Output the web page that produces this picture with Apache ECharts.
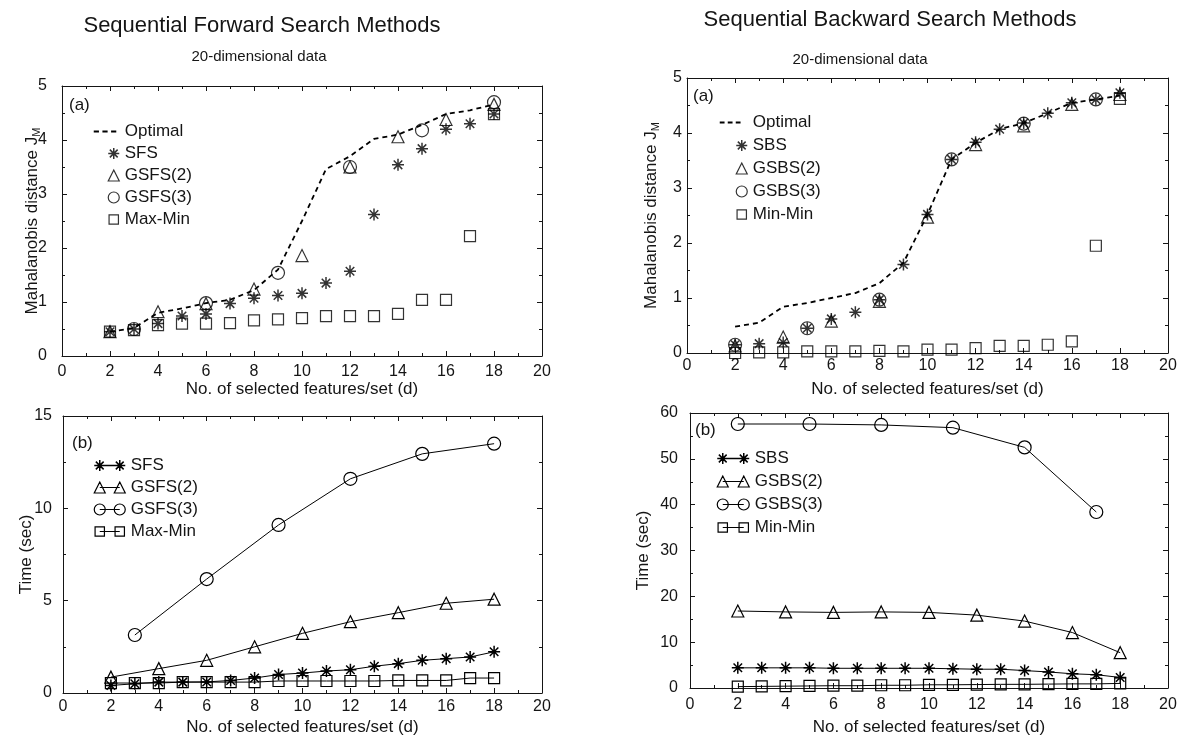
<!DOCTYPE html>
<html><head><meta charset="utf-8">
<script src="https://cdn.jsdelivr.net/npm/echarts@6/dist/echarts.min.js"></script>
<style>html,body{margin:0;padding:0;background:#fff}#c{width:1183px;height:741px}</style>
</head><body><div id="c"></div>
<script>
// ---------- data ----------
const dAll  = [2,3,4,5,6,7,8,9,10,11,12,13,14,15,16,17,18];
const dEven = [2,4,6,8,10,12,14,16,18];
const dFwd3 = [3,6,9,12,15,18];
const dBwd3 = [2,5,8,11,14,17];
const xTickVals = [0,2,4,6,8,10,12,14,16,18,20];

// (a) forward: Mahalanobis distance
const fwdOptimal = [0.45,0.52,0.80,0.88,0.98,1.04,1.22,1.60,2.50,3.46,3.70,4.02,4.10,4.28,4.48,4.55,4.66];
const fwdSFS     = [0.45,0.50,0.60,0.74,0.78,0.97,1.07,1.12,1.16,1.35,1.57,2.62,3.54,3.84,4.20,4.30,4.48];
const fwdGSFS2   = [0.45,0.82,0.97,1.24,1.86,3.50,4.06,4.38,4.66];
const fwdGSFS3   = [0.50,0.98,1.54,3.50,4.18,4.70];
const fwdMaxMin  = [0.45,0.48,0.57,0.60,0.60,0.61,0.66,0.68,0.70,0.74,0.74,0.74,0.78,1.04,1.04,2.22,4.48];
// (b) forward: time (sec)
const fwdTimeSFS    = [0.41,0.50,0.59,0.59,0.60,0.68,0.81,1.00,1.08,1.19,1.26,1.45,1.59,1.77,1.86,1.95,2.23];
const fwdTimeGSFS2  = [0.86,1.32,1.77,2.50,3.23,3.86,4.35,4.86,5.08];
const fwdTimeGSFS3  = [3.14,6.17,9.10,11.60,12.95,13.50];
const fwdTimeMaxMin = [0.54,0.54,0.54,0.59,0.59,0.59,0.59,0.65,0.65,0.65,0.65,0.65,0.68,0.68,0.68,0.81,0.81];
// (a) backward: Mahalanobis distance
const bwdOptimal = [0.48,0.55,0.84,0.91,1.00,1.09,1.27,1.64,2.52,3.52,3.82,4.07,4.18,4.36,4.55,4.61,4.68];
const bwdSBS     = [0.15,0.17,0.19,0.45,0.62,0.74,0.97,1.61,2.52,3.52,3.83,4.07,4.18,4.36,4.55,4.61,4.73];
const bwdGSBS2   = [0.13,0.29,0.58,0.94,2.47,3.79,4.13,4.52,4.70];
const bwdGSBS3   = [0.15,0.45,0.97,3.52,4.17,4.61];
const bwdMinMin  = [0.00,0.01,0.01,0.03,0.03,0.03,0.04,0.03,0.06,0.06,0.09,0.13,0.13,0.15,0.21,1.95,4.62];
// (b) backward: time (sec)
const bwdTimeSBS    = [4.4,4.4,4.4,4.4,4.3,4.3,4.3,4.3,4.3,4.2,4.1,4.1,3.8,3.5,3.1,2.9,2.3];
const bwdTimeGSBS2  = [16.8,16.6,16.5,16.6,16.5,15.9,14.6,12.1,7.7];
const bwdTimeGSBS3  = [57.6,57.6,57.4,56.8,52.5,38.4];
const bwdTimeMinMin = [0.3,0.35,0.4,0.45,0.5,0.5,0.6,0.6,0.7,0.7,0.75,0.8,0.8,0.85,0.9,0.9,1.0];

// ---------- helpers ----------
const FONT = 'Liberation Sans, Arial, Helvetica, sans-serif';
const INK = '#151515';
const zip = (xs, ys) => xs.map((x, i) => [x, ys[i]]);

function shapeAt(kind, cx, cy, r) {
  const f = v => +v.toFixed(2);
  if (kind === 'ast') {
    const q = r * 0.71;
    return `M${f(cx)},${f(cy-r)}L${f(cx)},${f(cy+r)}M${f(cx-r)},${f(cy)}L${f(cx+r)},${f(cy)}` +
           `M${f(cx-q)},${f(cy-q)}L${f(cx+q)},${f(cy+q)}M${f(cx-q)},${f(cy+q)}L${f(cx+q)},${f(cy-q)}`;
  }
  if (kind === 'tri') return `M${f(cx)},${f(cy-r)}L${f(cx+r)},${f(cy+r)}L${f(cx-r)},${f(cy+r)}Z`;
  if (kind === 'cir') return `M${f(cx+r)},${f(cy)}A${f(r)},${f(r)},0,1,1,${f(cx-r)},${f(cy)}A${f(r)},${f(r)},0,1,1,${f(cx+r)},${f(cy)}Z`;
  const s = r * 0.85;
  return `M${f(cx-s)},${f(cy-s)}L${f(cx+s)},${f(cy-s)}L${f(cx+s)},${f(cy+s)}L${f(cx-s)},${f(cy+s)}Z`;
}
const AST = 'path://' + shapeAt('ast', 6, 6, 6);
const SYM = { ast: AST, tri: 'triangle', cir: 'circle', sq: 'rect' };
const SYMSIZE = { ast: 12, tri: 12, cir: 13, sq: 11 };

function singleIcon(kind, W, H, cx) { return 'path://' + `M0,0M${W},${H}` + shapeAt(kind, cx, H/2, 5.5); }
function dashIcon(W, H, len) {
  let p = `M0,0M${W},${H}`; const seg = len / 3;
  for (let i = 0; i < 3; i++) { const x = i * seg; p += `M${(x).toFixed(2)},${H/2-1}h${(seg*0.6).toFixed(2)}v2h-${(seg*0.6).toFixed(2)}z`; }
  return 'path://' + p;
}
function lineIcon(kind, W, H, c1, c2) {
  return 'path://' + `M0,0M${W},${H}` + shapeAt(kind, c1, H/2, 5.5) + `M${c1},${H/2}L${c2},${H/2}` + shapeAt(kind, c2, H/2, 5.5);
}
const hollow = { color: 'transparent', borderColor: '#000', borderWidth: 1.2 };
const hollowAst = { color: 'transparent', borderColor: '#000', borderWidth: 1.5 };
const solid = { color: '#000', borderWidth: 0 };
const styleFor = k => k === 'ast' ? hollowAst : hollow;

// ---------- axes ----------
function xAxis(grid, pos, opts) {
  opts = opts || {};
  return {
    type: 'value', gridIndex: grid, position: pos, min: 0, max: 20, interval: 2,
    axisLine: { show: true, onZero: false, lineStyle: { color: INK, width: 1 } },
    axisTick: { show: true, inside: true, length: 5, lineStyle: { color: INK } },
    minorTick: { show: true, splitNumber: 2, length: 3, lineStyle: { color: INK } },
    splitLine: { show: false }, minorSplitLine: { show: false },
    axisLabel: { show: pos === 'bottom', color: INK, fontSize: 16, fontFamily: FONT, margin: opts.margin || 6,
                 formatter: v => xTickVals.includes(v) ? String(v) : '' },
    name: pos === 'bottom' ? 'No. of selected features/set (d)' : '',
    nameLocation: 'middle', nameGap: opts.gap || 25, nameMoveOverlap: false,
    nameTextStyle: { color: INK, fontSize: 17, fontFamily: FONT }
  };
}
function yAxis(grid, pos, min, max, interval, opts) {
  opts = opts || {};
  return {
    type: 'value', gridIndex: grid, position: pos, min: min, max: max, interval: interval,
    axisLine: { show: true, onZero: false, lineStyle: { color: INK, width: 1 } },
    axisTick: { show: true, inside: true, length: 5, lineStyle: { color: INK } },
    minorTick: { show: true, splitNumber: 2, length: 3, lineStyle: { color: INK } },
    splitLine: { show: false }, minorSplitLine: { show: false },
    axisLabel: { show: pos === 'left', color: INK, fontSize: 16, fontFamily: FONT, margin: opts.margin || 8 },
    name: pos === 'left' ? opts.name : '',
    nameLocation: 'middle', nameGap: opts.gap || 25, nameMoveOverlap: false,
    nameTextStyle: { color: INK, fontSize: 17, fontFamily: FONT,
      rich: { sub: { fontSize: 11, fontFamily: FONT, color: INK, padding: [8, 0, 0, 0] } } }
  };
}

// ---------- series ----------
function scatter(name, kind, xs, ys, ax) {
  return { type: 'scatter', name, xAxisIndex: ax, yAxisIndex: ax, data: zip(xs, ys),
    symbol: SYM[kind], symbolSize: SYMSIZE[kind], itemStyle: styleFor(kind), clip: false, z: 3,
    emphasis: { disabled: true } };
}
function dashed(name, xs, ys, ax) {
  return { type: 'line', name, xAxisIndex: ax, yAxisIndex: ax, data: zip(xs, ys), symbol: 'none',
    lineStyle: { color: '#000', width: 1.8, type: [5, 4] }, itemStyle: { color: '#000' }, z: 2, clip: false,
    emphasis: { disabled: true } };
}
function timeLine(name, kind, xs, ys, ax) {
  return { type: 'line', name, xAxisIndex: ax, yAxisIndex: ax, data: zip(xs, ys),
    symbol: SYM[kind], symbolSize: SYMSIZE[kind], showSymbol: true,
    lineStyle: { color: '#000', width: 1 }, itemStyle: styleFor(kind), z: 3, clip: false,
    emphasis: { disabled: true } };
}

function legendBox(left, top, gap, W, items) {
  return { left, top, orient: 'vertical', itemWidth: W, itemHeight: 12, itemGap: gap, padding: 0,
    selectedMode: false, textStyle: { fontSize: 17, color: INK, fontFamily: FONT }, data: items };
}

const option = {
  backgroundColor: '#ffffff',
  animation: false,
  grid: [
    { left: 62, top: 86, width: 480, height: 270 },
    { left: 63, top: 416, width: 479, height: 277 },
    { left: 687, top: 78, width: 481, height: 275 },
    { left: 690, top: 413, width: 478, height: 275 }
  ],
  xAxis: [
    xAxis(0, 'bottom', { margin: 8, gap: 25 }), xAxis(0, 'top'),
    xAxis(1, 'bottom', { margin: 6, gap: 26 }), xAxis(1, 'top'),
    xAxis(2, 'bottom', { margin: 5, gap: 28 }), xAxis(2, 'top'),
    xAxis(3, 'bottom', { margin: 9, gap: 31 }), xAxis(3, 'top')
  ],
  yAxis: [
    yAxis(0, 'left', 0, 5, 1, { margin: 15, gap: 20, name: 'Mahalanobis distance J{sub|M}' }), yAxis(0, 'right', 0, 5, 1),
    yAxis(1, 'left', 0, 15, 5, { margin: 11, gap: 28, name: 'Time (sec)' }), yAxis(1, 'right', 0, 15, 5),
    yAxis(2, 'left', 0, 5, 1, { margin: 5, gap: 26, name: 'Mahalanobis distance J{sub|M}' }), yAxis(2, 'right', 0, 5, 1),
    yAxis(3, 'left', 0, 60, 10, { margin: 12, gap: 38, name: 'Time (sec)' }), yAxis(3, 'right', 0, 60, 10)
  ],
  legend: [
    legendBox(93, 123, 5, 26, [
      { name: 'Optimal', icon: dashIcon(26, 12, 26), itemStyle: solid },
      { name: 'SFS', icon: singleIcon('ast', 26, 12, 20), itemStyle: hollowAst },
      { name: 'GSFS(2)', icon: singleIcon('tri', 26, 12, 20), itemStyle: hollow },
      { name: 'GSFS(3)', icon: singleIcon('cir', 26, 12, 20), itemStyle: hollow },
      { name: 'Max-Min', icon: singleIcon('sq', 26, 12, 20), itemStyle: hollow }
    ]),
    legendBox(93, 457, 5, 32, [
      { name: 'SFS ', icon: lineIcon('ast', 32, 12, 6, 26), itemStyle: hollowAst },
      { name: 'GSFS(2) ', icon: lineIcon('tri', 32, 12, 6, 26), itemStyle: hollow },
      { name: 'GSFS(3) ', icon: lineIcon('cir', 32, 12, 6, 26), itemStyle: hollow },
      { name: 'Max-Min ', icon: lineIcon('sq', 32, 12, 6, 26), itemStyle: hollow }
    ]),
    legendBox(719, 114, 6, 28, [
      { name: 'Optimal ', icon: dashIcon(28, 12, 24), itemStyle: solid },
      { name: 'SBS', icon: singleIcon('ast', 28, 12, 22), itemStyle: hollowAst },
      { name: 'GSBS(2)', icon: singleIcon('tri', 28, 12, 22), itemStyle: hollow },
      { name: 'GSBS(3)', icon: singleIcon('cir', 28, 12, 22), itemStyle: hollow },
      { name: 'Min-Min', icon: singleIcon('sq', 28, 12, 22), itemStyle: hollow }
    ]),
    legendBox(716, 450, 6, 33, [
      { name: 'SBS ', icon: lineIcon('ast', 33, 12, 6, 27), itemStyle: hollowAst },
      { name: 'GSBS(2) ', icon: lineIcon('tri', 33, 12, 6, 27), itemStyle: hollow },
      { name: 'GSBS(3) ', icon: lineIcon('cir', 33, 12, 6, 27), itemStyle: hollow },
      { name: 'Min-Min ', icon: lineIcon('sq', 33, 12, 6, 27), itemStyle: hollow }
    ])
  ],
  graphic: [
    { type: 'text', x: 262, y: 26, style: { text: 'Sequential Forward Search Methods', font: '22px ' + FONT, fill: INK, align: 'center', verticalAlign: 'middle' } },
    { type: 'text', x: 259, y: 57, style: { text: '20-dimensional data', font: '15px ' + FONT, fill: INK, align: 'center', verticalAlign: 'middle' } },
    { type: 'text', x: 890, y: 20, style: { text: 'Sequential Backward Search Methods', font: '22px ' + FONT, fill: INK, align: 'center', verticalAlign: 'middle' } },
    { type: 'text', x: 860, y: 60, style: { text: '20-dimensional data', font: '15px ' + FONT, fill: INK, align: 'center', verticalAlign: 'middle' } },
    { type: 'text', x: 69, y: 105, style: { text: '(a)', font: '17px ' + FONT, fill: INK, verticalAlign: 'middle' } },
    { type: 'text', x: 72, y: 443, style: { text: '(b)', font: '17px ' + FONT, fill: INK, verticalAlign: 'middle' } },
    { type: 'text', x: 693, y: 96, style: { text: '(a)', font: '17px ' + FONT, fill: INK, verticalAlign: 'middle' } },
    { type: 'text', x: 695, y: 430, style: { text: '(b)', font: '17px ' + FONT, fill: INK, verticalAlign: 'middle' } }
  ],
  series: [
    dashed('Optimal', dAll, fwdOptimal, 0),
    scatter('SFS', 'ast', dAll, fwdSFS, 0),
    scatter('GSFS(2)', 'tri', dEven, fwdGSFS2, 0),
    scatter('GSFS(3)', 'cir', dFwd3, fwdGSFS3, 0),
    scatter('Max-Min', 'sq', dAll, fwdMaxMin, 0),

    timeLine('SFS ', 'ast', dAll, fwdTimeSFS, 2),
    timeLine('GSFS(2) ', 'tri', dEven, fwdTimeGSFS2, 2),
    timeLine('GSFS(3) ', 'cir', dFwd3, fwdTimeGSFS3, 2),
    timeLine('Max-Min ', 'sq', dAll, fwdTimeMaxMin, 2),

    dashed('Optimal ', dAll, bwdOptimal, 4),
    scatter('SBS', 'ast', dAll, bwdSBS, 4),
    scatter('GSBS(2)', 'tri', dEven, bwdGSBS2, 4),
    scatter('GSBS(3)', 'cir', dBwd3, bwdGSBS3, 4),
    scatter('Min-Min', 'sq', dAll, bwdMinMin, 4),

    timeLine('SBS ', 'ast', dAll, bwdTimeSBS, 6),
    timeLine('GSBS(2) ', 'tri', dEven, bwdTimeGSBS2, 6),
    timeLine('GSBS(3) ', 'cir', dBwd3, bwdTimeGSBS3, 6),
    timeLine('Min-Min ', 'sq', dAll, bwdTimeMinMin, 6)
  ]
};
const chart = echarts.init(document.getElementById('c'), null, { renderer: 'canvas' });
chart.setOption(option);
</script>
</body></html>
